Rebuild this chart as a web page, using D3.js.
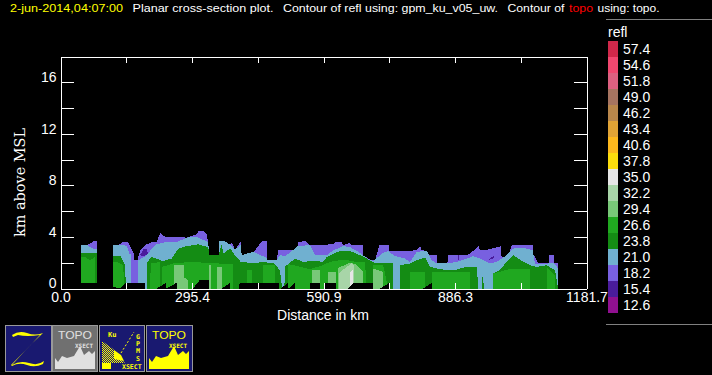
<!DOCTYPE html>
<html>
<head>
<meta charset="utf-8">
<script src="https://cdn.jsdelivr.net/npm/d3@7"></script>
<style>
html, body { margin: 0; padding: 0; background: #000; overflow: hidden; }
text { font-family: "Liberation Sans", Arial, sans-serif; fill: #fff; }
</style>
</head>
<body>
<svg id="chart" width="712" height="375"></svg>
<script>
const width = 712;
const height = 375;

// legend
const legendLabels = ["57.4","54.6","51.8","49.0","46.2","43.4","40.6","37.8","35.0","32.2","29.4","26.6","23.8","21.0","18.2","15.4","12.6"];
const legendColors = ["#d0284a","#f0476f","#dc6080","#a67460","#b9874b","#e0a335","#fcb81d","#fbdc0d","#e6e6e6","#a8d5a8","#78c878","#20a820","#148c14","#70b0d0","#7860e0","#4a1c9c","#901090"];

// axis ticks
const xTicks = [0, 147.7, 295.4, 443.2, 590.9, 738.6, 886.3, 1034, 1181.7];
const xLabels = ["0.0", "295.4", "590.9", "886.3", "1181.7"];
const yTicks = [0, 2, 4, 6, 8, 10, 12, 14, 16, 18];
const yLabels = [0, 4, 8, 12, 16];

// contour tops, [distance km, height km], null breaks a run
const top182 = [[46,3.36],[60,3.36],[66,3.49],[74,3.66],[82,3.66],null,
	[118,3.36],[135,3.43],[141,3.64],[152,3.64],[155,3.36],[165,2.71],[165,2.19],[173,2.19],[179,2.97],[190,3.36],[205,3.61],[216,3.61],[224,4.31],[235,4.0],[261,4.0],[283,3.95],[306,4.2],[310,4.45],[321,4.45],[328,4.2],[332,3.6],[334,2.58],[355,2.58],[356,3.66],[370,3.66],[381,3.4],[385,3.6],[392,3.0],[405,3.66],[407,2.58],[418,2.71],[433,2.84],[437,2.97],[452,3.66],[463,3.66],[465,2.19],[486,2.19],[489,2.97],[534,2.97],[534,3.6],[546,3.66],[552,3.66],[561,3.36],[613,3.43],[619,3.61],[632,3.61],[635,3.36],[650,3.54],[654,3.36],[679,3.36],[679,2.58],[692,2.32],[699,2.19],[707,2.19],[716,3.36],[738,3.36],[739,2.92],[785,2.92],[799,2.97],[808,3.28],[811,2.97],[823,2.92],[824,2.58],[845,2.58],[845,1.94],[869,1.94],[871,2.58],[912,2.58],[920,2.71],[939,3.28],[943,2.97],[954,2.97],[989,3.28],[990,2.58],[1002,2.19],[1014,3.36],[1061,3.36],[1061,2.58],[1064,2.58],[1074,1.94],[1097,1.94],[1097,2.58],[1109,2.58],[1109,1.94],[1118,1.94]];
const top210 = [[46,3.36],[60,3.36],[66,3.2],[74,3.1],[82,3.1],null,
	[118,3.36],[145,3.36],[150,3.23],[155,2.71],[158,2.71],[158,0],[175,0],[175,2.19],[194,2.58],[205,3.1],[216,3.43],[235,3.58],[261,3.58],[283,3.95],[306,4.0],[332,3.6],[334,2.58],[355,2.58],[356,3.66],[370,3.66],[381,3.4],[392,3.0],[405,3.4],[407,2.58],[418,2.71],[433,2.84],[448,2.6],[463,2.4],[465,2.19],[486,2.19],[493,2.6],[504,2.5],[512,2.7],[534,3.3],[561,3.36],[572,2.58],[598,2.58],[613,2.97],[635,3.28],[650,3.23],[662,2.97],[676,2.71],[688,2.32],[703,2.13],[722,2.71],[736,2.92],[748,2.58],[759,2.45],[774,2.32],[785,2.06],[800,2.84],[823,2.92],[834,2.19],[845,1.94],[868,1.94],[890,2.06],[912,2.32],[927,2.5],[943,2.32],[965,1.94],[980,2.06],[1002,2.58],[1017,3.1],[1040,3.15],[1061,2.97],[1066,1.9],[1097,1.94],[1109,1.94],[1118,1.55]];
const top238 = [[46,2.79],[82,2.79],null,
	[118,2.5],[135,2.5],[145,1.85],[147,0],[195,0],[195,2.06],[205,2.45],[230,2.13],[250,2.32],[265,3.1],[283,3.28],[310,3.43],[332,3.2],[334,2.58],[355,2.58],[362,3.4],[366,2.71],[381,3.1],[392,2.58],[405,2.06],[433,1.97],[456,2.06],[480,1.94],[493,1.42],[498,0],[503,0],[504,1.68],[527,2.32],[546,2.06],[568,2.16],[590,2.06],[598,2.45],[628,2.92],[650,2.92],[673,2.58],[688,2.32],[695,2.19],[710,1.94],[748,1.94],[748,0],[763,0],[763,1.81],[785,1.94],[800,2.19],[819,2.4],[830,1.68],[845,1.55],[868,1.42],[890,1.47],[912,1.68],[935,1.68],[939,0],[946,0],[946,1.42],[952,0],[971,0],[971,1.16],[987,1.42],[1002,2.06],[1017,2.58],[1040,2.06],[1055,1.81],[1070,1.68],[1092,1.81],[1111,1.42],[1118,0]];
const top266 = [[46,2.45],[55,2.45],[66,2.19],[78,2.45],[78,0],null,
	[118,2.06],[128,2.06],[141,1.8],[143,0],[201,0],[203,1.94],[224,2.06],[224,0],[228,0],[228,1.68],[254,1.94],[291,2.06],[332,1.99],[356,1.94],[388,1.9],[388,0],[418,0],[418,1.45],[430,1.45],[430,0],[456,0],[456,1.85],[482,1.85],[482,0],[512,0],[512,1.9],[560,1.5],[583,1.73],[605,2.06],[635,2.25],[665,2.06],[684,2.06],[688,0],[703,0],[703,1.81],[725,1.81],[736,0],[785,0],[785,1.29],[819,1.29],[819,0],[834,0],[834,1.29],[920,1.29],[920,0],[972,0],[972,1.16],[1014,1.55],[1055,1.55],[1055,0],[1092,0],[1092,1.68],[1111,1.0],[1111,0]];
const top294 = [[255,0],[255,1.86],[277,1.86],[277,0.9],[287,0.6],[287,0],null,
	[334,0],[334,1.8],[339,1.8],[339,0],null,
	[351,0],[351,1.7],[362,1.7],[362,0],null,
	[564,0],[564,1.4],[583,1.4],[583,0],null,
	[602,0],[602,1.29],[619,1.29],[619,0],null,
	[624,0],[624,1.6],[650,2.0],[662,1.9],[680,1.29],[680,0],null,
	[703,0],[703,1.55],[725,1.3],[725,0]];
const top322 = [[626,0],[626,1.2],[640,1.6],[654,1.95],[660,1.8],[660,0]];
const top350 = [[650,0],[650,1.2],[658,1.5],[658,0]];

// small 15.4 pockets, [distance, low, high]
const pocket154 = [[179,2.6,2.6],[186,2.5,3.05],[194,2.6,3.05],[196,2.75,2.75],null,
	[893,2.25,2.25],[894,2.25,2.6],[896,2.25,2.6],[896,2.25,2.25],null,
	[963,2.2,2.3],[975,2.4,2.55]];

// terrain below the echoes
const terrain = [[46,0.44],[82,0.44],[135,0],[145,0.44],[147,0.44],[190,0.44],[190,0],[216,0],[237,0.44],[237,0],[238,0],[261,0.44],[261,0],[298,0],[313,0.67],[334,0.67],[334,0],[362,0],[381,0.44],[381,0],[400,0],[403,0.44],[490,0.44],[490,0],[495,0],[512,0.44],[512,0],[512,0],[527,0.44],[527,0],[560,0],[560,0.44],[583,0.44],[583,0],[594,0],[594,0.44],[619,0.44],[619,0],[647,0],[658,0.44],[703,0.44],[703,0],[718,0],[739,0.44],[739,0],[815,0],[834,0.44],[834,0]];

const svg = d3.select("#chart");
const margin = { left: 60.5, right: 586.5, top: 56.5, bottom: 288.5 };

const x = d3.scaleLinear().domain([0, 1181.7]).range([margin.left, margin.right]);
const y = d3.scaleLinear().domain([0, 18]).range([margin.bottom, margin.top]);

svg.append("rect").attr("width", width).attr("height", height).attr("fill", "#000");

// title, one run at a time
const titleRuns = [
	{ text: "2-jun-2014,04:07:00", x: 10, len: 113, color: "#ffff00" },
	{ text: "Planar cross-section plot.", x: 132.5, len: 141, color: "#fff" },
	{ text: "Contour of refl using: gpm_ku_v05_uw.", x: 283, len: 215, color: "#fff" },
	{ text: "Contour of", x: 507.5, len: 57, color: "#fff" },
	{ text: "topo", x: 569, len: 24, color: "#ff0000" },
	{ text: "using: topo.", x: 597.5, len: 62, color: "#fff" }
];
svg.append("g").selectAll("text")
	.data(titleRuns)
	.enter().append("text")
	.attr("x", d => d.x)
	.attr("y", 12)
	.attr("font-size", 11)
	.attr("textLength", d => d.len)
	.attr("lengthAdjust", "spacingAndGlyphs")
	.style("fill", d => d.color)
	.text(d => d.text);

// contours
const area = d3.area()
	.defined(d => d !== null)
	.x(d => x(d[0]))
	.y0(y(0))
	.y1(d => y(d[1]));

const layers = [
	[top182, legendColors[14]],
	[top210, legendColors[13]],
	[top238, legendColors[12]],
	[top266, legendColors[11]],
	[top294, legendColors[10]],
	[top322, legendColors[9]],
	[top350, legendColors[8]],
	[terrain, "#000"]
];
svg.append("g").selectAll("path")
	.data(layers)
	.enter().append("path")
	.attr("d", d => area(d[0]))
	.attr("fill", d => d[1])
	.attr("shape-rendering", "crispEdges");

const pocketArea = d3.area()
	.defined(d => d !== null)
	.x(d => x(d[0]))
	.y0(d => y(d[1]))
	.y1(d => y(d[2]));
svg.append("path")
	.attr("d", pocketArea(pocket154))
	.attr("fill", legendColors[15])
	.attr("shape-rendering", "crispEdges");

// axes
function styleAxis(g) {
	g.selectAll("path, line").attr("stroke", "#fff").attr("stroke-width", 1).attr("shape-rendering", "crispEdges");
	g.selectAll("text").attr("font-size", 14).attr("font-family", null).style("fill", "#fff");
}
svg.append("g")
	.attr("transform", `translate(${margin.left},0)`)
	.call(d3.axisLeft(y).tickValues(yTicks).tickSizeInner(-13).tickSizeOuter(0).tickPadding(4)
		.tickFormat(d => yLabels.includes(d) ? d : ""))
	.call(styleAxis)
	.call(g => g.selectAll("text").attr("dy", "-0.05em"));
svg.append("g")
	.attr("transform", `translate(${margin.right},0)`)
	.call(d3.axisRight(y).tickValues(yTicks).tickSizeInner(-13).tickSizeOuter(0).tickFormat(""))
	.call(styleAxis);
svg.append("g")
	.attr("transform", `translate(0,${margin.bottom})`)
	.call(d3.axisBottom(x).tickValues(xTicks).tickSizeInner(-6).tickSizeOuter(0).tickPadding(4)
		.tickFormat(d => {
			const s = d.toFixed(1);
			return xLabels.includes(s) ? s : "";
		}))
	.call(styleAxis);
svg.append("g")
	.attr("transform", `translate(0,${margin.top})`)
	.call(d3.axisTop(x).tickValues(xTicks).tickSizeInner(-6).tickSizeOuter(0).tickFormat(""))
	.call(styleAxis);

svg.append("text")
	.attr("x", 323)
	.attr("y", 320)
	.attr("text-anchor", "middle")
	.attr("font-size", 14)
	.text("Distance in km");

svg.append("text")
	.attr("transform", "translate(25,237) rotate(-90)")
	.attr("font-size", 15)
	.attr("textLength", 109)
	.attr("lengthAdjust", "spacingAndGlyphs")
	.style("font-family", "'DejaVu Serif', serif")
	.text("km above MSL");

// legend
const legendScale = d3.scaleBand().domain(legendLabels).range([41, 313]);
svg.append("g").selectAll("rect")
	.data(legendLabels)
	.enter().append("rect")
	.attr("x", 608)
	.attr("y", d => legendScale(d))
	.attr("width", 10)
	.attr("height", legendScale.bandwidth())
	.attr("fill", (d, i) => legendColors[i]);
svg.append("g").selectAll("text")
	.data(legendLabels)
	.enter().append("text")
	.attr("x", 623)
	.attr("y", d => legendScale(d) + 13)
	.attr("font-size", 14)
	.text(d => d);
svg.append("text").attr("x", 608).attr("y", 37).attr("font-size", 14).text("refl");
svg.append("line").attr("x1", 606).attr("x2", 712).attr("y1", 19.5).attr("y2", 19.5).attr("stroke", "#808080");
svg.append("line").attr("x1", 606).attr("x2", 712).attr("y1", 324.5).attr("y2", 324.5).attr("stroke", "#808080");

// icon buttons
const navy = "#191970";
const yellow = "#ffff00";
const ridge = "M0 33 L3 37 L7 31 L12 33 L19 31 L25 21 L29 30 L34 26 L37 29 L40 26 V44 H0 Z";

const defs = svg.append("defs");
defs.append("pattern").attr("id", "dither")
	.attr("width", 2).attr("height", 2).attr("patternUnits", "userSpaceOnUse")
	.call(p => {
		p.append("rect").attr("width", 1).attr("height", 1).attr("fill", yellow);
		p.append("rect").attr("x", 1).attr("y", 1).attr("width", 1).attr("height", 1).attr("fill", yellow);
	});

function button(xPos, w, bg) {
	const g = svg.append("g").attr("transform", `translate(${xPos},325)`);
	g.append("rect").attr("x", 0.5).attr("y", 0.5).attr("width", w).attr("height", 46)
		.attr("fill", bg).attr("stroke", "#999");
	return g;
}
function smallText(g, str, xPos, yPos, size, color) {
	return g.append("text").attr("x", xPos).attr("y", yPos).attr("font-size", size)
		.style("font-family", "'DejaVu Sans Mono', monospace").style("font-weight", "bold").style("fill", color).text(str);
}
function topoTitle(g, color) {
	g.append("text").attr("x", 6).attr("y", 14).attr("font-size", 11)
		.attr("textLength", 34).attr("lengthAdjust", "spacingAndGlyphs")
		.style("fill", color).text("TOPO");
	smallText(g, "XSECT", 23, 23, 6, color);
}

const b1 = button(5, 46, navy);
b1.append("path")
	.attr("d", "M7 10 Q14 5 22 8 T38 8 Q27 18 18 28 L7 40 Q15 35 24 38 T39 36 L38 39 Q30 43 22 40 T7 41 L6 40 Q22 24 35 10 Q22 12 13 10 L8 12 Z")
	.attr("fill", yellow);

const b2 = button(52, 45, "#707070");
b2.append("path").attr("d", ridge).attr("transform", "translate(3,0)").attr("fill", "#e0e0e0");
topoTitle(b2, "#e0e0e0");

const b3 = button(99, 45, navy);
b3.append("path").attr("d", "M3 16 L14 24 L22 34 L26 38 H3 Z").attr("fill", "url(#dither)");
b3.append("path").attr("d", "M15 25 L22 30 L25 36 L15 34 Z").attr("fill", yellow);
b3.append("rect").attr("x", 3).attr("y", 38).attr("width", 9).attr("height", 6).attr("fill", yellow);
b3.append("path").attr("d", "M22 28 L35 7").attr("stroke", yellow).attr("stroke-dasharray", "2 2");
smallText(b3, "Ku", 9, 12, 7, yellow);
smallText(b3, "G", 37, 14, 6.5, yellow);
smallText(b3, "P", 37, 21, 6.5, yellow);
smallText(b3, "M", 37, 28, 6.5, yellow);
smallText(b3, "S", 37, 36, 6.5, yellow);
smallText(b3, "XSECT", 23, 44, 6.5, yellow);

const b4 = button(146, 46, navy);
b4.append("path").attr("d", ridge).attr("transform", "translate(3,0)").attr("fill", yellow);
topoTitle(b4, yellow);
</script>
</body>
</html>
